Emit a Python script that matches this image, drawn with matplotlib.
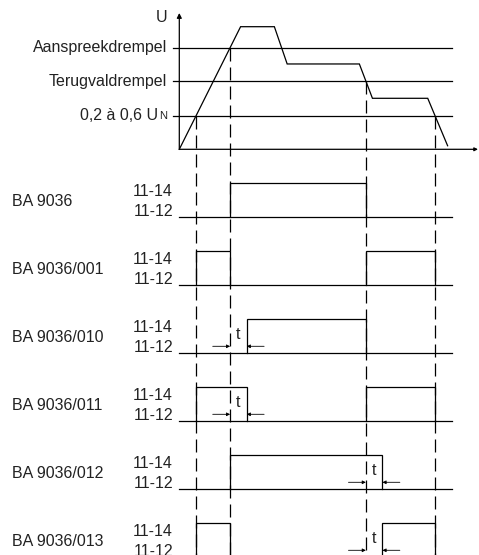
import numpy as np
import matplotlib
matplotlib.use("Agg")
import matplotlib.pyplot as plt

# ---------------- data ----------------
# supply voltage curve (time units, voltage in % of peak)
u_time = [0, 22.5, 34.9, 39.6, 66.1, 70.9, 91.2, 98.5]
u_value = [0, 100, 100, 69.6, 69.6, 41.6, 41.6, 2.9]

threshold_names = ["Aanspreekdrempel", "Terugvaldrempel", "0,2 à 0,6 U"]
threshold_levels = [82.9, 55.7, 27.4]

delay_t = 6.1            # delay "t"
time_end = 100           # end of contact traces

relay_names = ["BA 9036", "BA 9036/001", "BA 9036/010",
               "BA 9036/011", "BA 9036/012", "BA 9036/013"]
contact_labels = ["11-14", "11-12"]

# ---------------- figure / scales ----------------
W, H, DPI = 479, 555, 100
PX_X = 2.724   # pixels per time unit
PX_Y = 1.226   # pixels per voltage unit
X0_PX, Y0_PX = 179.3, 149.3   # position of origin (from left / top)

fig = plt.figure(figsize=(W / DPI, H / DPI), dpi=DPI)
ax = fig.add_axes([0, 0, 1, 1])
ax.set_xlim(-X0_PX / PX_X, (W - X0_PX) / PX_X)
ax.set_ylim(-(H - Y0_PX) / PX_Y, Y0_PX / PX_Y)
ax.axis("off")

def dx(px):
    return px / PX_X

def dy(px):
    return px / PX_Y

FONT = "Liberation Sans"
FS = 11.5
TXT = "#222222"
LW = 0.9

def crossing(level, rising):
    for i in range(len(u_time) - 1):
        a, b = u_value[i], u_value[i + 1]
        if (rising and a < level <= b) or ((not rising) and a > level >= b):
            if a < b:
                return float(np.interp(level, [a, b], [u_time[i], u_time[i + 1]]))
            return float(np.interp(level, [b, a], [u_time[i + 1], u_time[i]]))
    return None

lvl_on, lvl_off, lvl_min = threshold_levels
t1 = crossing(lvl_min, True)
t2 = crossing(lvl_on, True)
t3 = crossing(lvl_off, False)
t4 = crossing(lvl_min, False)

# ---------------- voltage panel ----------------
ax.annotate("", xy=(0, dy(136.3)), xytext=(0, 0),
            arrowprops=dict(arrowstyle="-|>", lw=LW, color="black",
                            mutation_scale=7, shrinkA=0, shrinkB=0))
ax.annotate("", xy=(dx(298.7), 0), xytext=(0, 0),
            arrowprops=dict(arrowstyle="-|>", lw=LW, color="black",
                            mutation_scale=5, shrinkA=0, shrinkB=0))
ax.text(dx(-17.8), dy(132.3), "U", ha="center", va="center",
        fontsize=FS, family=FONT, color=TXT)

for name, lvl in zip(threshold_names, threshold_levels):
    ax.plot([dx(-6), time_end], [lvl, lvl], color="black", lw=LW)
    if name.endswith("U"):
        ax.text(dx(-12.3), lvl - dy(0.5), "N", ha="right", va="center",
                fontsize=FS * 0.7, family=FONT, color=TXT)
        ax.text(dx(-21.0), lvl, name, ha="right", va="center",
                fontsize=FS, family=FONT, color=TXT)
    else:
        ax.text(dx(-12.3), lvl, name, ha="right", va="center",
                fontsize=FS, family=FONT, color=TXT)

ax.plot(u_time, u_value, color="black", lw=LW, solid_joinstyle="miter")

# dashed event lines
ybottom = ax.get_ylim()[0]
for tc, lvl in [(t1, lvl_min), (t2, lvl_on), (t3, lvl_off), (t4, lvl_min)]:
    ax.plot([tc, tc], [lvl, ybottom], color="black", lw=LW,
            linestyle=(0, (13 * 0.72 / LW, 6 * 0.72 / LW)))

# ---------------- relay traces ----------------
on_intervals = [
    [(t2, t3)],
    [(t1, t2), (t3, t4)],
    [(t2 + delay_t, t3)],
    [(t1, t2 + delay_t), (t3, t4)],
    [(t2, t3 + delay_t)],
    [(t1, t2), (t3 + delay_t, t4)],
]
delay_marks = [None, None, t2, t2, t3, t3]

ROW_GAP = dy(68)
PULSE = dy(34)

for k, (name, ivs, mark) in enumerate(zip(relay_names, on_intervals, delay_marks)):
    base = -ROW_GAP * (k + 1)
    ax.plot([0, time_end], [base, base], color="black", lw=LW)
    for a, b in ivs:
        ax.plot([a, a, b, b], [base, base + PULSE, base + PULSE, base],
                color="black", lw=LW, solid_joinstyle="miter")
    ax.text(dx(-167.3), base + dy(15.5), name, ha="left", va="center",
            fontsize=FS, family=FONT, color=TXT)
    ax.text(dx(-6.3), base + dy(25.6), contact_labels[0], ha="right", va="center",
            fontsize=FS, family=FONT, color=TXT)
    ax.text(dx(-6.3), base + dy(5.6), contact_labels[1], ha="right", va="center",
            fontsize=FS, family=FONT, color=TXT)
    if mark is not None:
        ya = base + dy(7)
        ax.annotate("", xy=(mark, ya), xytext=(mark - dx(17.4), ya),
                    arrowprops=dict(arrowstyle="-|>", lw=0.6, color="black",
                                    mutation_scale=5, shrinkA=0, shrinkB=0))
        ax.annotate("", xy=(mark + delay_t, ya), xytext=(mark + delay_t + dx(17.4), ya),
                    arrowprops=dict(arrowstyle="-|>", lw=0.6, color="black",
                                    mutation_scale=5, shrinkA=0, shrinkB=0))
        ax.text(mark + delay_t / 2, base + dy(18.5), "t", ha="center", va="center",
                fontsize=FS, family=FONT, color=TXT)

fig.savefig("out.png", dpi=DPI, facecolor="white")
